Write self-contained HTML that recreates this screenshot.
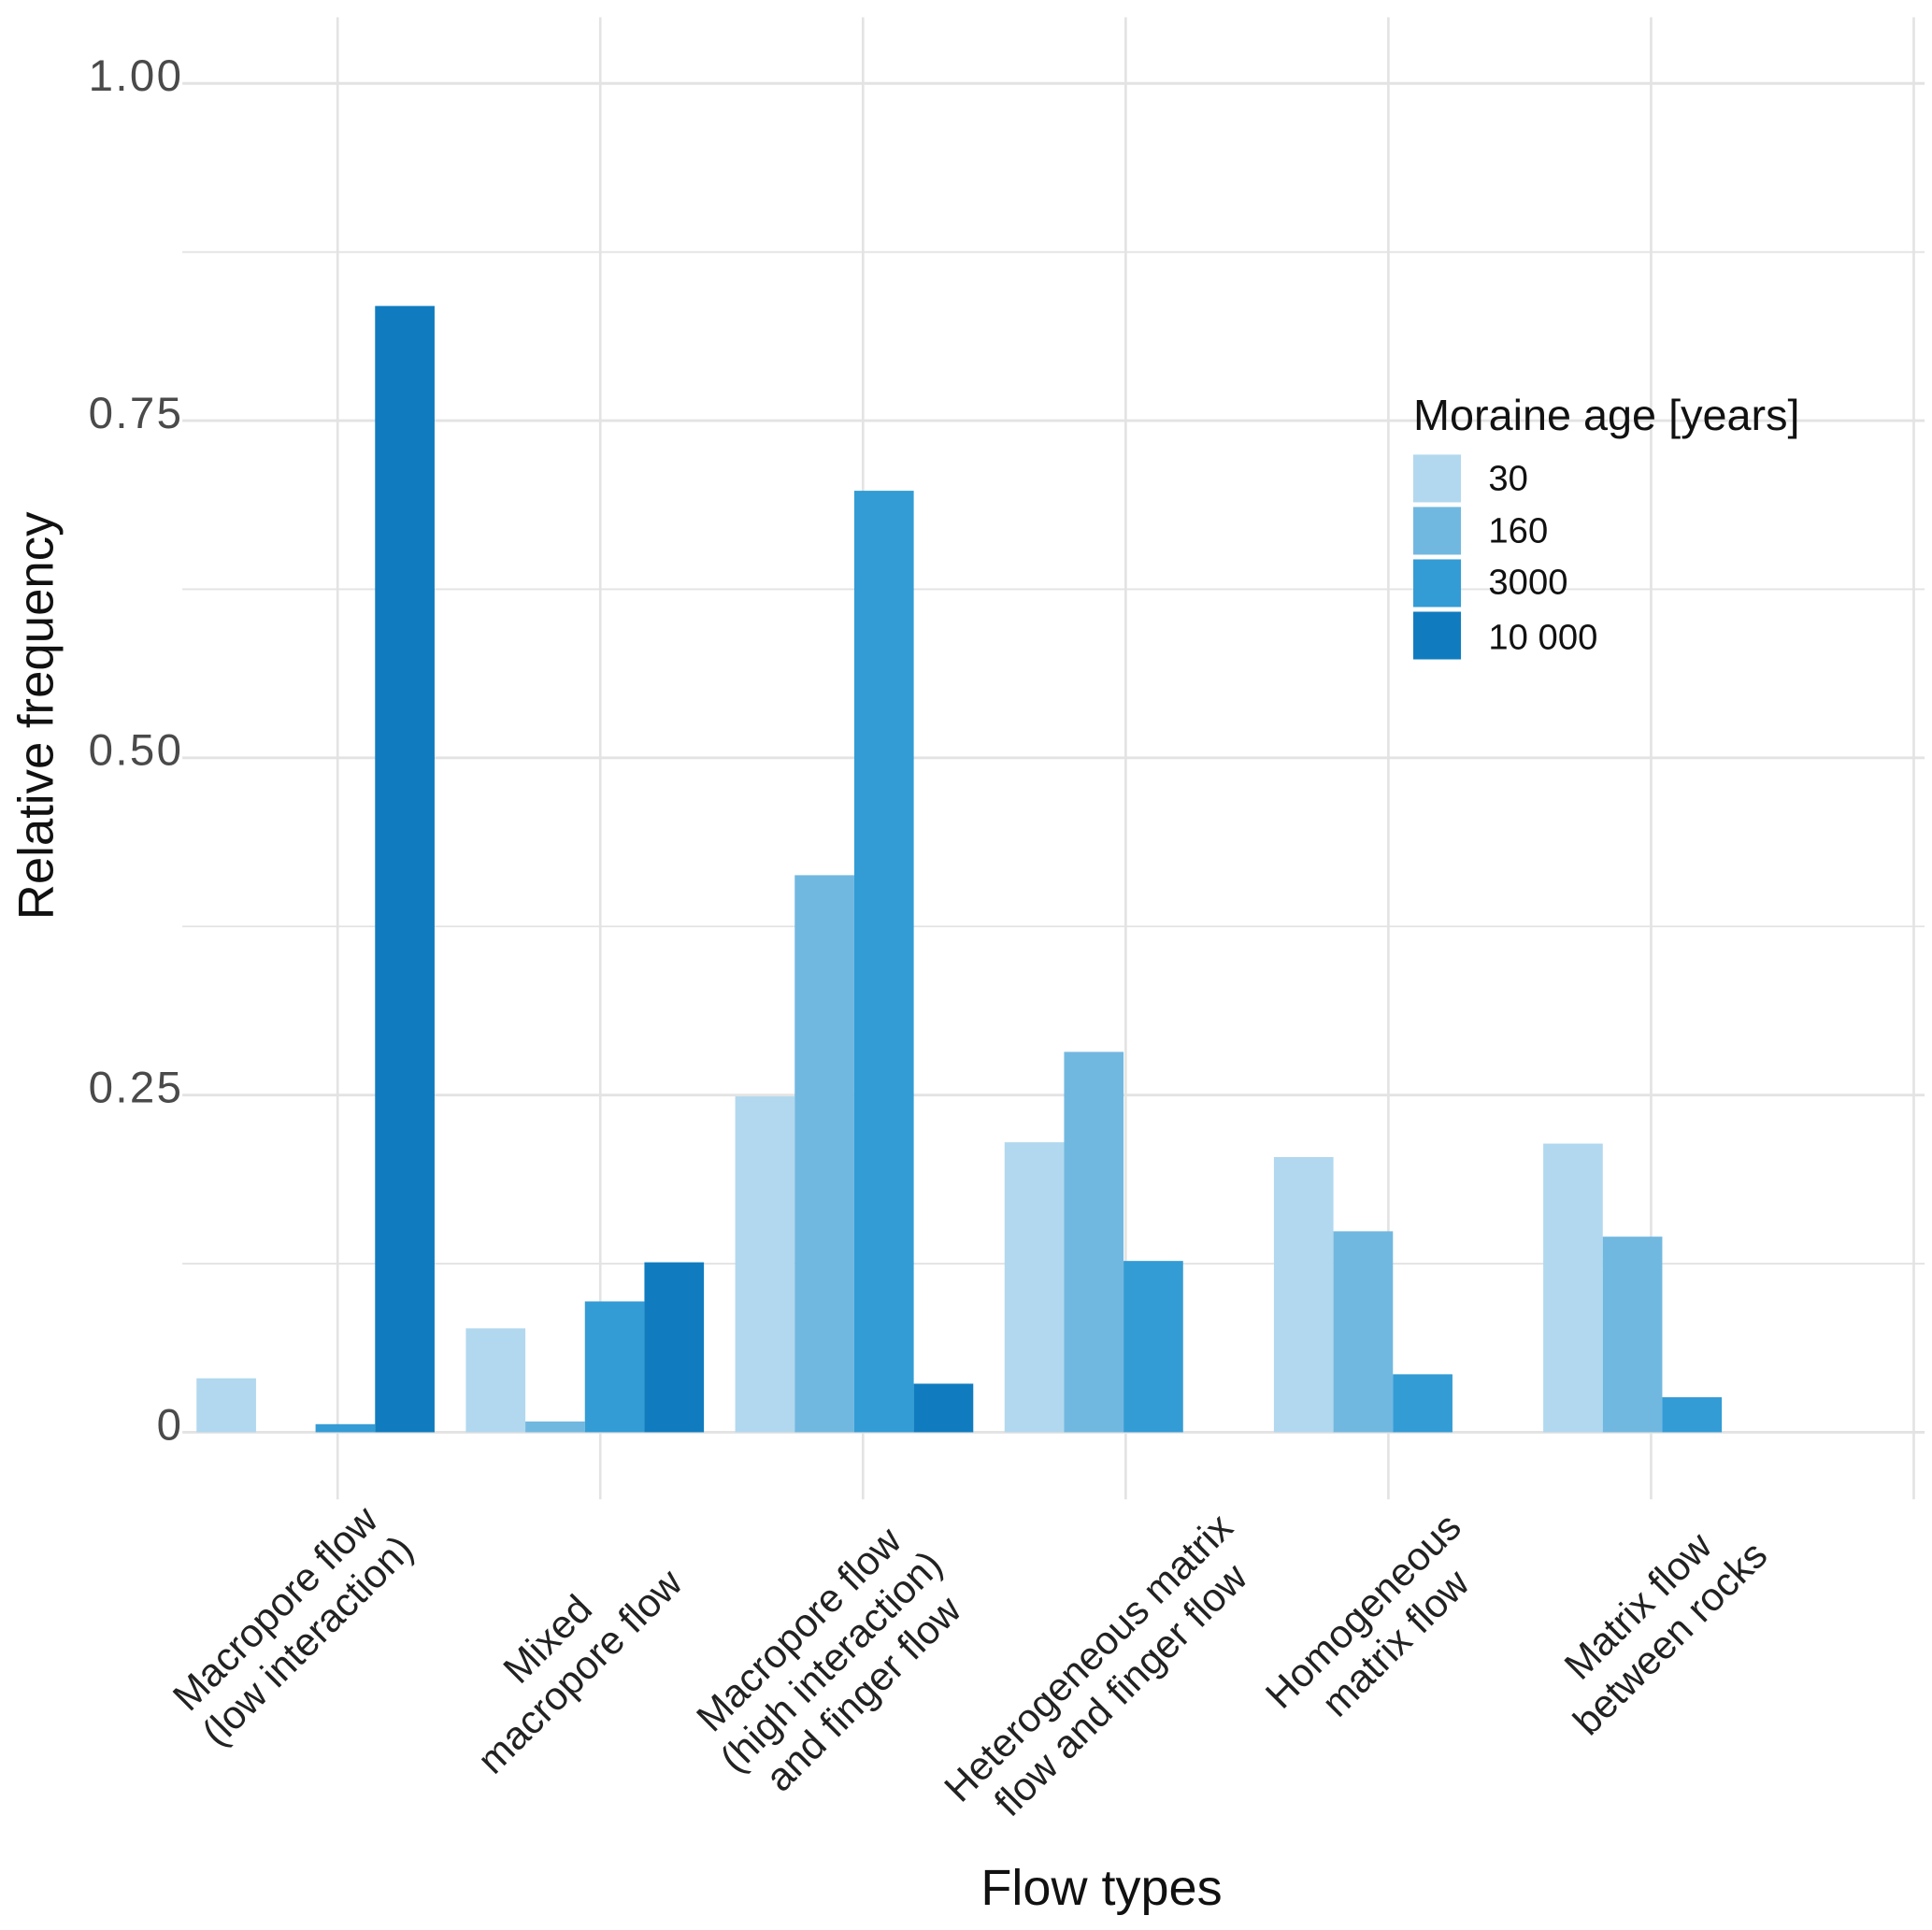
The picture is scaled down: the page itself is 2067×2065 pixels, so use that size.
<!DOCTYPE html>
<html><head><meta charset="utf-8">
<style>
html,body{margin:0;padding:0;background:#fff;}
svg{display:block;font-family:"Liberation Sans",Arial,sans-serif;}
</style></head>
<body>
<svg id="chart" width="2067" height="2065" viewBox="0 0 1568 1566.5" preserveAspectRatio="none" xmlns="http://www.w3.org/2000/svg">
  <rect x="0" y="0" width="1568" height="1566.5" fill="#fff"/>
  <g id="grid"></g>
  <g id="bars"></g>
  <g id="yticks"></g>
  <g id="xlabels"></g>
  <text transform="translate(43,581) rotate(-90)" text-anchor="middle" font-size="40" fill="#111">Relative frequency</text>
  <text x="894" y="1546" text-anchor="middle" font-size="41" fill="#111">Flow types</text>
  <g id="legend">
    <text x="1147" y="349" font-size="35.5" fill="#111">Moraine age [years]</text>
  </g>
</svg>
<script>
const categories = [
  ["Macropore flow","(low interaction)"],
  ["Mixed","macropore flow"],
  ["Macropore flow","(high interaction)","and finger flow"],
  ["Heterogeneous matrix","flow and finger flow"],
  ["Homogeneous","matrix flow"],
  ["Matrix flow","between rocks"]
];
const seriesNames = ["30","160","3000","10 000"];
const s30    = [0.040, 0.077, 0.249, 0.215, 0.204, 0.214];
const s160   = [0.000, 0.008, 0.413, 0.282, 0.149, 0.145];
const s3000  = [0.006, 0.097, 0.698, 0.127, 0.043, 0.026];
const s10000 = [0.835, 0.126, 0.036, 0.000, 0.000, 0.000];
const yTicks = [0, 0.25, 0.5, 0.75, 1.0];
const yTickLabels = ["0", "0.25", "0.50", "0.75", "1.00"];

const series = [s30, s160, s3000, s10000];
const colors = ["#b1d8ee", "#71b8e0", "#339cd5", "#107cbf"];
const NS = "http://www.w3.org/2000/svg";
const Y0 = 1162.5, Y1 = 67.7;
function y(v){ return Y0 + (Y1 - Y0) * v; }
const GROUP_X0 = 159.5, GROUP_STEP = 218.6, BAR_W = 48.3;
function groupX(i){ return GROUP_X0 + i * GROUP_STEP; }
function mk(tag, attrs, parent){
  const e = document.createElementNS(NS, tag);
  for (const k in attrs) e.setAttribute(k, attrs[k]);
  parent.appendChild(e);
  return e;
}
const grid = document.getElementById('grid');
for (let k = 0; k <= 8; k++) {
  const v = k * 0.125;
  const l = mk('line', {x1: 148, x2: 1562, y1: y(v), y2: y(v), stroke: '#e3e3e3', 'stroke-width': k % 2 ? 1.4 : 2.2}, grid);
  
  
}
for (let i = 0; i < 7; i++) {
  const gx = 274 + i * 213.2;
  const l = mk('line', {x1: gx, x2: gx, y1: 14, y2: 1217, stroke: '#e3e3e3', 'stroke-width': 2}, grid);
  
  
}
const barsG = document.getElementById('bars');
categories.forEach((c, i) => {
  series.forEach((s, j) => {
    const v = s[i];
    if (v <= 0) return;
    const r = mk('rect', {x: groupX(i) + j * BAR_W, y: y(v), width: BAR_W, height: y(0) - y(v), fill: colors[j]}, barsG);
    
    
  });
});
const yt = document.getElementById('yticks');
yTicks.forEach((v, k) => {
  const t = mk('text', {x: 149, y: y(v) + 6, 'text-anchor': 'end', 'font-size': 36, fill: '#4a4a4a', 'letter-spacing': 1.8}, yt);
  t.textContent = yTickLabels[k];
  
  
});
const labelCenters = [[236,1318],[457,1343],[674,1348],[896,1358],[1119,1320],[1342,1316]];
const xl = document.getElementById('xlabels');
const LH = 37, FS = 32;
categories.forEach((lines, i) => {
  const [cx, cy] = labelCenters[i];
  const t = mk('text', {transform: `translate(${cx},${cy}) rotate(-45)`, 'text-anchor': 'middle', 'font-size': FS, fill: '#222'}, xl);
  
  
  const n = lines.length;
  lines.forEach((ln, k) => {
    const ts = mk('tspan', {x: 0, y: (k - (n - 1) / 2) * LH + FS * 0.36}, t);
    ts.textContent = ln;
  });
});
const lg = document.getElementById('legend');
const keyY = [369, 411.5, 454, 496.5];
const labY = [398, 440.5, 482, 527];
seriesNames.forEach((nm, j) => {
  const r = mk('rect', {x: 1147, y: keyY[j], width: 38.7, height: 38.7, fill: colors[j]}, lg);
  
  
  const t = mk('text', {x: 1208, y: labY[j], 'font-size': 29, fill: '#111'}, lg);
  t.textContent = nm;
  
  
});
</script>
</body></html>
